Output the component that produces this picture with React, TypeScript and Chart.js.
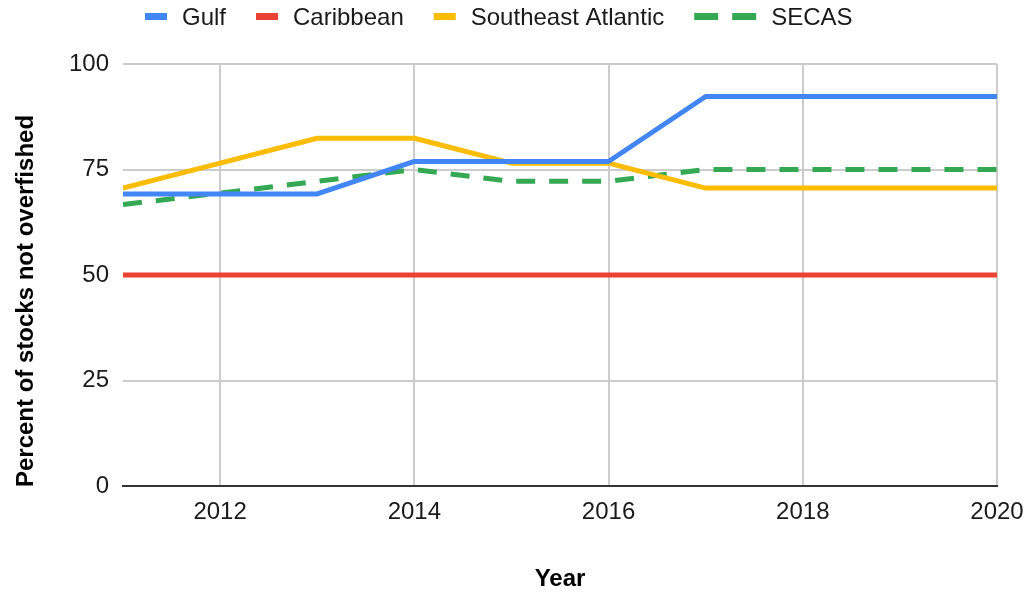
import React, { useEffect, useRef } from "react";
import { Chart, registerables } from "chart.js";

Chart.register(...registerables);

const years = [2011, 2012, 2013, 2014, 2015, 2016, 2017, 2018, 2019, 2020];
const gulf = [69.2, 69.2, 69.2, 76.9, 76.9, 76.9, 92.3, 92.3, 92.3, 92.3];
const caribbean = [50, 50, 50, 50, 50, 50, 50, 50, 50, 50];
const southeastAtlantic = [70.6, 76.5, 82.4, 82.4, 76.5, 76.5, 70.6, 70.6, 70.6, 70.6];
const secas = [66.7, 69.4, 72.2, 75, 72.2, 72.2, 75, 75, 75, 75];

const seriesNames = ["Gulf", "Caribbean", "Southeast Atlantic", "SECAS"];
const seriesColors = ["#4285F4", "#EA4335", "#FBBC04", "#34A853"];
const yTicks = [0, 25, 50, 75, 100];
const xTicks = [2012, 2014, 2016, 2018, 2020];
const xTitle = "Year";
const yTitle = "Percent of stocks not overfished";

const FONT = '"Liberation Sans", Arial, sans-serif';

const overlay = {
  id: "overlay",
  afterDraw(chart: any) {
    const ctx = chart.ctx as CanvasRenderingContext2D;
    const area = chart.chartArea;
    ctx.save();
    // legend
    ctx.font = `24px ${FONT}`;
    ctx.textBaseline = "alphabetic";
    ctx.textAlign = "left";
    let x = 145;
    const yMid = 16.5;
    chart.data.datasets.forEach((ds: any) => {
      const dashed = Array.isArray(ds.borderDash) && ds.borderDash.length > 0;
      const w = dashed ? 62 : 22;
      ctx.strokeStyle = ds.borderColor;
      ctx.lineWidth = 7;
      ctx.lineCap = "butt";
      ctx.setLineDash(dashed ? [24, 14] : []);
      ctx.beginPath();
      ctx.moveTo(x, yMid);
      ctx.lineTo(x + w, yMid);
      ctx.stroke();
      ctx.setLineDash([]);
      x += w + 15;
      ctx.fillStyle = "#1a1a1a";
      ctx.fillText(ds.label, x, 25);
      x += ctx.measureText(ds.label).width + 30;
    });
    // axis titles
    ctx.font = `bold 24px ${FONT}`;
    ctx.fillStyle = "#000000";
    ctx.textAlign = "center";
    ctx.fillText(xTitle, (area.left + area.right) / 2, 586);
    ctx.translate(33, 301);
    ctx.rotate(-Math.PI / 2);
    ctx.fillText(yTitle, 0, 0);
    ctx.restore();
  },
};

export default function App() {
  const ref = useRef<HTMLCanvasElement>(null);
  useEffect(() => {
    if (!ref.current) return;
    const mk = (vals: number[]) => years.map((y, i) => ({ x: y, y: vals[i] }));
    const all = [gulf, caribbean, southeastAtlantic, secas];
    const chart = new Chart(ref.current, {
      type: "line",
      data: {
        datasets: all.map((vals, i) => ({
          label: seriesNames[i],
          data: mk(vals),
          borderColor: seriesColors[i],
          backgroundColor: seriesColors[i],
          borderWidth: 5,
          pointRadius: 0,
          tension: 0,
          borderJoinStyle: "round" as const,
          borderDash: i === 3 ? [19, 14] : [],
          order: i === 1 ? 0 : i,
        })),
      },
      options: {
        animation: false,
        responsive: false,
        devicePixelRatio: 1,
        layout: { padding: { top: 64, right: 30, left: 0, bottom: 0 } },
        plugins: { legend: { display: false }, tooltip: { enabled: false } },
        scales: {
          x: {
            type: "linear",
            min: years[0],
            max: years[years.length - 1],
            afterFit: (s: any) => {
              s.height = 106;
              s.paddingLeft = 0;
              s.paddingRight = 0;
            },
            afterBuildTicks: (s: any) => {
              s.ticks = xTicks.map((v) => ({ value: v }));
            },
            ticks: {
              padding: 12,
              color: "#1a1a1a",
              font: { size: 24, family: FONT },
              maxRotation: 0,
              callback: (v: any) => String(v),
            },
            grid: { color: "#cccccc", lineWidth: 2, drawTicks: false },
            border: { display: true, color: "#333333", width: 2 },
          },
          y: {
            min: 0,
            max: 100,
            afterFit: (s: any) => {
              s.width = 123;
              s.paddingTop = 0;
              s.paddingBottom = 0;
            },
            afterBuildTicks: (s: any) => {
              s.ticks = yTicks.map((v) => ({ value: v }));
            },
            ticks: {
              padding: 14,
              color: "#1a1a1a",
              font: { size: 24, family: FONT },
              callback: (v: any) => String(v),
            },
            grid: { color: "#cccccc", lineWidth: 2, drawTicks: false },
            border: { display: false },
          },
        },
      },
      plugins: [overlay],
    });
    return () => chart.destroy();
  }, []);
  return (
    <div style={{ position: "fixed", left: 0, top: 0, width: 1027, height: 592, background: "#fff" }}>
      <canvas ref={ref} width={1027} height={592} style={{ display: "block" }} />
    </div>
  );
}
